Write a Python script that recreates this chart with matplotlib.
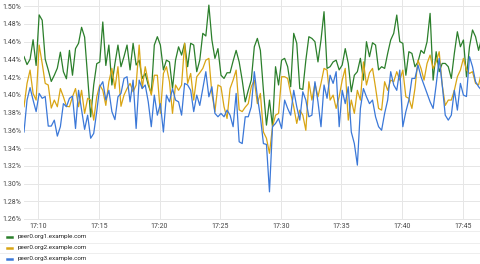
import numpy as np
import pandas as pd
import matplotlib
matplotlib.use('Agg')
import matplotlib.pyplot as plt
import matplotlib.dates as mdates
from matplotlib.lines import Line2D

plt.rcParams['font.family'] = ['Roboto', 'DejaVu Sans']

# values (percent), one point every 15 s
org1 = [1.443, 1.434, 1.440, 1.462, 1.433, 1.490, 1.484, 1.440, 1.428, 1.415, 1.422, 1.430, 1.448,
        1.426, 1.418, 1.450, 1.422, 1.452, 1.458, 1.476, 1.465, 1.420, 1.375, 1.411, 1.435, 1.437,
        1.482, 1.433, 1.456, 1.411, 1.435, 1.456, 1.4316, 1.443, 1.456, 1.428, 1.458, 1.4335, 1.439,
        1.4184, 1.424, 1.411, 1.4015, 1.456, 1.4654, 1.456, 1.428, 1.439, 1.437, 1.407, 1.439, 1.454,
        1.4447, 1.458, 1.4316, 1.458, 1.456, 1.426, 1.439, 1.4692, 1.4662, 1.501, 1.4617, 1.441, 1.452,
        1.422, 1.4184, 1.4248, 1.4248, 1.438, 1.450, 1.437, 1.4165, 1.392, 1.405, 1.4165, 1.4541, 1.4635,
        1.450, 1.405, 1.3658, 1.394, 1.364, 1.4316, 1.411, 1.439, 1.441, 1.4316, 1.409, 1.4692, 1.458,
        1.407, 1.406, 1.439, 1.4654, 1.4635, 1.4598, 1.437, 1.4617, 1.4936, 1.4297, 1.4316, 1.437, 1.439,
        1.428,
        1.4335, 1.452, 1.4353, 1.4034, 1.422, 1.426, 1.441, 1.4165, 1.4598, 1.4429, 1.4586, 1.456, 1.428,
        1.4316, 1.4297, 1.4466, 1.4617, 1.4692, 1.4898, 1.4598, 1.458, 1.422, 1.4485,
        1.4466, 1.4316, 1.437, 1.450, 1.4466, 1.4598, 1.4917, 1.4165, 1.4485, 1.426, 1.4353, 1.4353,
        1.4316, 1.4184, 1.4466, 1.471, 1.4541, 1.4617, 1.4203, 1.4541, 1.473, 1.4654, 1.450, 1.4635]

org2 = [1.3865, 1.4128, 1.4278, 1.4015, 1.394, 1.456, 1.4353, 1.4128, 1.411, 1.385, 1.394, 1.3865,
        1.407, 1.3977, 1.387, 1.3865, 1.3977, 1.407, 1.3865, 1.405, 1.379, 1.396, 1.394, 1.3714, 1.3977,
        1.411,
        1.405, 1.388, 1.4147, 1.4297, 1.407, 1.4316, 1.387, 1.3996, 1.407, 1.4128, 1.4034, 1.411, 1.456,
        1.407, 1.4316, 1.4147, 1.3996, 1.422, 1.422, 1.379, 1.424, 1.4316, 1.4147, 1.379, 1.411, 1.405,
        1.411, 1.458, 1.4128, 1.424, 1.394, 1.4203, 1.4248, 1.4297, 1.439, 1.441, 1.4015, 1.381, 1.411,
        1.409, 1.3865, 1.3733, 1.407, 1.4165, 1.4278, 1.383, 1.381, 1.386, 1.390, 1.409, 1.4165, 1.390,
        1.4015, 1.358, 1.351, 1.334, 1.364, 1.377, 1.379, 1.4203, 1.4203, 1.4184, 1.4015, 1.3865, 1.3677,
        1.3827, 1.377, 1.360, 1.4147, 1.394, 1.4128, 1.3977, 1.4128, 1.4297, 1.4278, 1.394, 1.3996,
        1.3846, 1.3977,
        1.4165, 1.4297, 1.3714, 1.394, 1.379, 1.405, 1.394, 1.437, 1.411, 1.4248, 1.4297, 1.408, 1.3846,
        1.3827, 1.4147, 1.405, 1.4165, 1.4147, 1.426, 1.4165, 1.4278, 1.3977, 1.396,
        1.3846, 1.407, 1.439, 1.4297, 1.4165, 1.4353, 1.4447, 1.4297, 1.437, 1.4485, 1.411, 1.388,
        1.394, 1.394, 1.405, 1.4203, 1.4278, 1.441, 1.4278, 1.424, 1.426, 1.4128, 1.411, 1.426]

org3 = [1.358, 1.394, 1.408, 1.394, 1.381, 1.4015, 1.396, 1.398, 1.3647, 1.3647, 1.3714, 1.3534,
        1.364, 1.390, 1.3865, 1.396, 1.3985, 1.362, 1.405, 1.383, 1.361, 1.377, 1.351, 1.3564, 1.381,
        1.409,
        1.4147, 1.394, 1.405, 1.381, 1.372, 1.3977, 1.4015, 1.4184, 1.4203, 1.392, 1.4165, 1.362, 1.4165,
        1.407, 1.411, 1.392, 1.364, 1.3996, 1.377, 1.390, 1.358, 1.3996, 1.392, 1.407, 1.394, 1.392,
        1.377, 1.4128, 1.411, 1.405, 1.381, 1.3996, 1.388, 1.407, 1.426, 1.3977, 1.409, 1.379, 1.3752,
        1.379, 1.3752, 1.3827, 1.377, 1.364, 1.4015, 1.347, 1.345, 1.3752, 1.3752, 1.3865, 1.426, 1.3977,
        1.3752, 1.345, 1.344, 1.2906, 1.364, 1.3677, 1.3733, 1.362, 1.394, 1.3846, 1.377, 1.405, 1.3865,
        1.3714, 1.4034, 1.394, 1.3752, 1.377, 1.4147, 1.392, 1.364, 1.411, 1.396, 1.422, 1.4128, 1.426,
        1.364,
        1.405, 1.390, 1.409, 1.358, 1.345, 1.3207, 1.3846, 1.407, 1.3977, 1.390, 1.394, 1.3752, 1.364,
        1.360, 1.379, 1.394, 1.426, 1.411, 1.405, 1.4278, 1.364, 1.381, 1.394,
        1.4184, 1.4184, 1.4335, 1.4203, 1.411, 1.4015, 1.392, 1.3846, 1.411, 1.441, 1.411, 1.377,
        1.3714, 1.377, 1.405, 1.3827, 1.4128, 1.3996, 1.398, 1.4429, 1.4316, 1.4147, 1.409, 1.405]

names = ['peer0.org1.example.com', 'peer0.org2.example.com', 'peer0.org3.example.com']
colors = ['#2b7f2b', '#d9a514', '#3b78d8']
series = [org1, org2, org3]

start = pd.Timestamp('2020-01-01 17:08:49')
times = pd.date_range(start, periods=len(org1), freq='15s')

W, H = 480, 264
fig = plt.figure(figsize=(W / 100, H / 100), dpi=100)
ax = fig.add_axes([24 / W, 1 - 220 / H, 1 - 24 / W, 220 / H])

for vals, c in zip(series, colors):
    ax.plot(times[:len(vals)], vals, color=c, lw=0.9)

ax.set_xlim(start, start + pd.Timedelta(seconds=2257))
ax.set_ylim(1.26 - 1 / 886.5, 1.50 + 6 / 886.5)
ax.set_yticks(np.arange(1.26, 1.5001, 0.02))
ax.yaxis.set_major_formatter(plt.FuncFormatter(lambda v, p: '%.2f%%' % v))
ax.xaxis.set_major_locator(mdates.MinuteLocator(byminute=range(0, 60, 5)))
ax.xaxis.set_major_formatter(mdates.DateFormatter('%H:%M'))
ax.tick_params(length=0, labelsize=5, colors='#444444')
ax.tick_params(axis='y', pad=2)
ax.tick_params(axis='x', pad=2.5)
ax.grid(True, color='#e6e6e6', lw=0.7)
ax.set_axisbelow(True)
for s in ax.spines.values():
    s.set_visible(False)

# legend rows under the chart
row_y = [236.7, 247.7, 258.5]
for yy in [231, 242.5, 253.3]:
    fig.add_artist(Line2D([0, 1], [1 - yy / H] * 2, color='#ebebeb', lw=0.6))
for name, c, yy in zip(names, colors, row_y):
    fig.add_artist(Line2D([7 / W, 12 / W], [1 - yy / H] * 2, color=c, lw=1.8))
    fig.text(18 / W, 1 - yy / H, name, fontsize=4.5, color='#222222', va='center', ha='left')

fig.savefig('out.png', dpi=100)
